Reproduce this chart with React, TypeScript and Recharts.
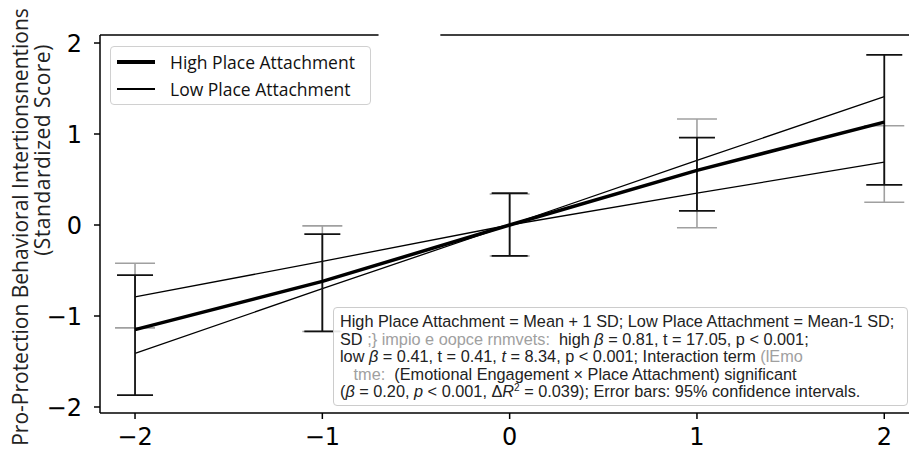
import React from 'react';
import { LineChart, Line, XAxis, YAxis, ErrorBar, ReferenceLine } from 'recharts';

const xValues = [-2, -1, 0, 1, 2];
const highValues = [-1.15, -0.62, 0, 0.6, 1.13];
const lowValues = [-0.79, -0.4, 0, 0.35, 0.69];
const steepValues = [-1.41, -0.7, 0, 0.71, 1.41];
const highCiLower = [-1.87, -1.17, -0.34, 0.155, 0.44];
const highCiUpper = [-0.55, -0.1, 0.35, 0.96, 1.87];
const lowCiLower = [-1.13, -1.17, -0.34, -0.03, 0.25];
const lowCiUpper = [-0.42, -0.01, 0.34, 1.165, 1.09];
const tickValues = [-2, -1, 0, 1, 2];

const xDomain: [number, number] = [-2.187, 2.132];
const yDomain: [number, number] = [-2.066, 2.088];

const data = xValues.map((x, i) => ({
  x,
  high: highValues[i],
  low: lowValues[i],
  steep: steepValues[i],
  highErr: [highValues[i] - highCiLower[i], highCiUpper[i] - highValues[i]],
  lowErr: [lowValues[i] - lowCiLower[i], lowCiUpper[i] - lowValues[i]],
}));

const fmt = (v: number) => String(v).replace('-', '\u2212');
const tickStyle = { fill: '#000', fontSize: 24, fontFamily: 'DejaVu Sans' };
const gray = '#a0a0a0';

export default function App() {
  return (
    <div style={{ position: 'absolute', left: 0, top: 0, width: 909, height: 450, background: '#fff', overflow: 'hidden' }}>
      <LineChart width={909} height={450} data={data} margin={{ top: 35, right: 0, bottom: 0, left: 40 }}>
        <XAxis
          type="number"
          dataKey="x"
          domain={xDomain}
          ticks={tickValues}
          allowDataOverflow
          tickFormatter={fmt}
          tick={tickStyle}
          tickSize={6}
          tickMargin={9}
          height={37}
          stroke="#000"
          strokeWidth={1.5}
        />
        <YAxis
          type="number"
          domain={yDomain}
          ticks={tickValues}
          allowDataOverflow
          tickFormatter={fmt}
          tick={tickStyle}
          tickSize={6}
          tickMargin={12}
          width={60}
          stroke="#000"
          strokeWidth={1.5}
        />
        <ReferenceLine
          segment={[{ x: xDomain[0], y: yDomain[1] }, { x: -0.7, y: yDomain[1] }]}
          stroke="#000"
          strokeWidth={1.5}
          ifOverflow="visible"
        />
        <ReferenceLine
          segment={[{ x: -0.37, y: yDomain[1] }, { x: xDomain[1], y: yDomain[1] }]}
          stroke="#000"
          strokeWidth={1.5}
          ifOverflow="visible"
        />
        <Line type="linear" dataKey="low" stroke="#000" strokeWidth={1.3} dot={false} isAnimationActive={false}>
          <ErrorBar dataKey="lowErr" width={20} stroke={gray} strokeWidth={1.6} isAnimationActive={false} />
        </Line>
        <Line type="linear" dataKey="steep" stroke="#000" strokeWidth={1.3} dot={false} isAnimationActive={false} />
        <Line type="linear" dataKey="high" stroke="#000" strokeWidth={3.5} dot={false} isAnimationActive={false}>
          <ErrorBar dataKey="highErr" width={18} stroke="#111" strokeWidth={1.8} isAnimationActive={false} />
        </Line>
      </LineChart>

      {/* y axis label, two offset lines */}
      <div style={{ position: 'absolute', left: 20, top: 227, transform: 'translate(-50%, -50%) rotate(-90deg)', whiteSpace: 'nowrap', fontFamily: 'Open Sans', fontSize: 21, color: '#222' }}>
        Pro-Protection Behavioral Intertionsnentions
      </div>
      <div style={{ position: 'absolute', left: 42, top: 150, transform: 'translate(-50%, -50%) rotate(-90deg)', whiteSpace: 'nowrap', fontFamily: 'Open Sans', fontSize: 21, letterSpacing: 0.5, color: '#222' }}>
        (Standardized Score)
      </div>

      {/* legend */}
      <div style={{ position: 'absolute', left: 110, top: 46, width: 259, height: 57, border: '1px solid #d0d0d0', borderRadius: 4, background: '#fff', fontFamily: 'Open Sans', fontSize: 17.5, color: '#111' }}>
        {[{ name: 'High Place Attachment', w: 4 }, { name: 'Low Place Attachment', w: 1.5 }].map((it, i) => (
          <div key={it.name} style={{ position: 'absolute', left: 6, top: 4 + i * 27, height: 22, display: 'flex', alignItems: 'center', whiteSpace: 'nowrap' }}>
            <div style={{ width: 38, height: it.w, background: '#000', marginRight: 15 }} />
            <span>{it.name}</span>
          </div>
        ))}
      </div>

      {/* annotation box */}
      <div style={{ position: 'absolute', left: 333, top: 307, width: 561, height: 87, padding: '5px 6px', border: '1px solid #ccc', borderRadius: 4, background: 'rgba(255,255,255,0.9)', fontFamily: 'Liberation Sans', fontSize: 16.3, lineHeight: '17.5px', color: '#222', whiteSpace: 'nowrap' }}>
        <div>High Place Attachment = Mean + 1 SD; Low Place Attachment = Mean-1 SD;</div>
        <div>SD <span style={{ color: gray }}>{';} impio e oopce rnmvets:'}</span>&nbsp; high <i>β</i> = 0.81, t = 17.05, p &lt; 0.001;</div>
        <div>low <i>β</i> = 0.41, t = 0.41, <i>t</i> = 8.34, p &lt; 0.001; Interaction term <span style={{ color: gray }}>(lEmo</span></div>
        <div>&nbsp;&nbsp;&nbsp;<span style={{ color: gray }}>tme:</span>&nbsp;&nbsp;(Emotional Engagement × Place Attachment) significant</div>
        <div>(<i>β</i> = 0.20, <i>p</i> &lt; 0.001, Δ<i>R</i><sup style={{ fontSize: 10, lineHeight: 0 }}>2</sup> = 0.039); Error bars: 95% confidence intervals.</div>
      </div>
    </div>
  );
}
